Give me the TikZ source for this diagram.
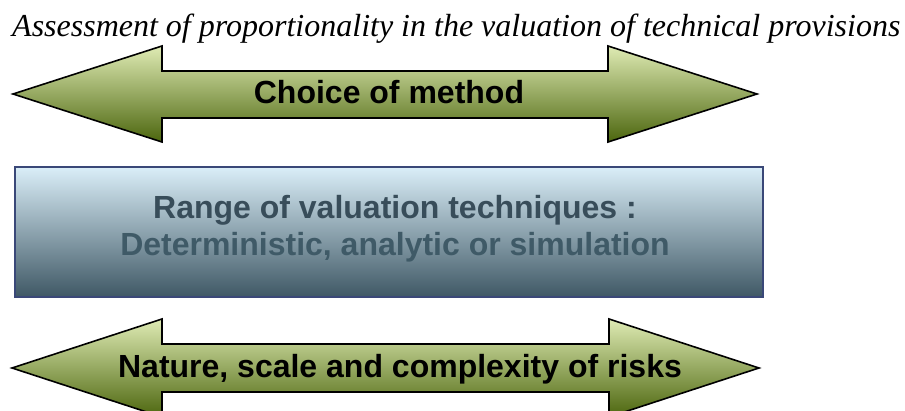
\documentclass[tikz,border=0pt]{standalone}
\usepackage{fontspec}
\setmainfont{Liberation Serif}
\newfontfamily\arialfont{Liberation Sans}
\begin{document}
\begin{tikzpicture}[x=1pt,y=-1pt,
  bannershape/.style={top color=olivetop, bottom color=olivebot, draw=black, line width=1.6pt, line join=miter},
  bannertext/.style={font=\arialfont\bfseries\fontsize{32}{38}\selectfont, text=black, inner sep=0pt, anchor=base},
  rangetext/.style={font=\arialfont\bfseries\fontsize{32}{38}\selectfont, inner sep=0pt, anchor=base}]
\definecolor{olivetop}{HTML}{DFEBB4}
\definecolor{olivebot}{HTML}{4C660E}
\definecolor{slatetop}{HTML}{DAEEF8}
\definecolor{slatebot}{HTML}{3F5865}
\definecolor{slateline}{HTML}{3A4878}
\definecolor{rangeone}{HTML}{384D5A}
\definecolor{rangetwo}{HTML}{3F5A67}
\useasboundingbox (0,0) rectangle (905,411);
\clip (0,0) rectangle (905,411);
% title
\node[anchor=base west, inner sep=0pt, font=\itshape\fontsize{32}{38}\selectfont] (title) at (12,37) {Assessment of proportionality in the valuation of technical provisions};
% choice of method
\shadedraw[bannershape] (13,94) -- (162,46) -- (162,71) -- (608,71) -- (608,46) -- (757,94) -- (608,142) -- (608,118) -- (162,118) -- (162,142) -- cycle;
\node[bannertext] (method) at (389,104) {Choice of method};
% range of techniques
\shadedraw[top color=slatetop, bottom color=slatebot, draw=slateline, line width=1.4pt] (15,167) rectangle (763,297);
\node[rangetext, text=rangeone] (range) at (395,219) {Range of valuation techniques :};
\node[rangetext, text=rangetwo] (techniques) at (395,256) {Deterministic, analytic or simulation};
% nature, scale, complexity
\shadedraw[bannershape] (12,368) -- (162,319) -- (162,344) -- (609,344) -- (609,319) -- (759,368) -- (609,417) -- (609,392) -- (162,392) -- (162,417) -- cycle;
\node[bannertext] (risks) at (400,378) {Nature, scale and complexity of risks};
\end{tikzpicture}
\end{document}
